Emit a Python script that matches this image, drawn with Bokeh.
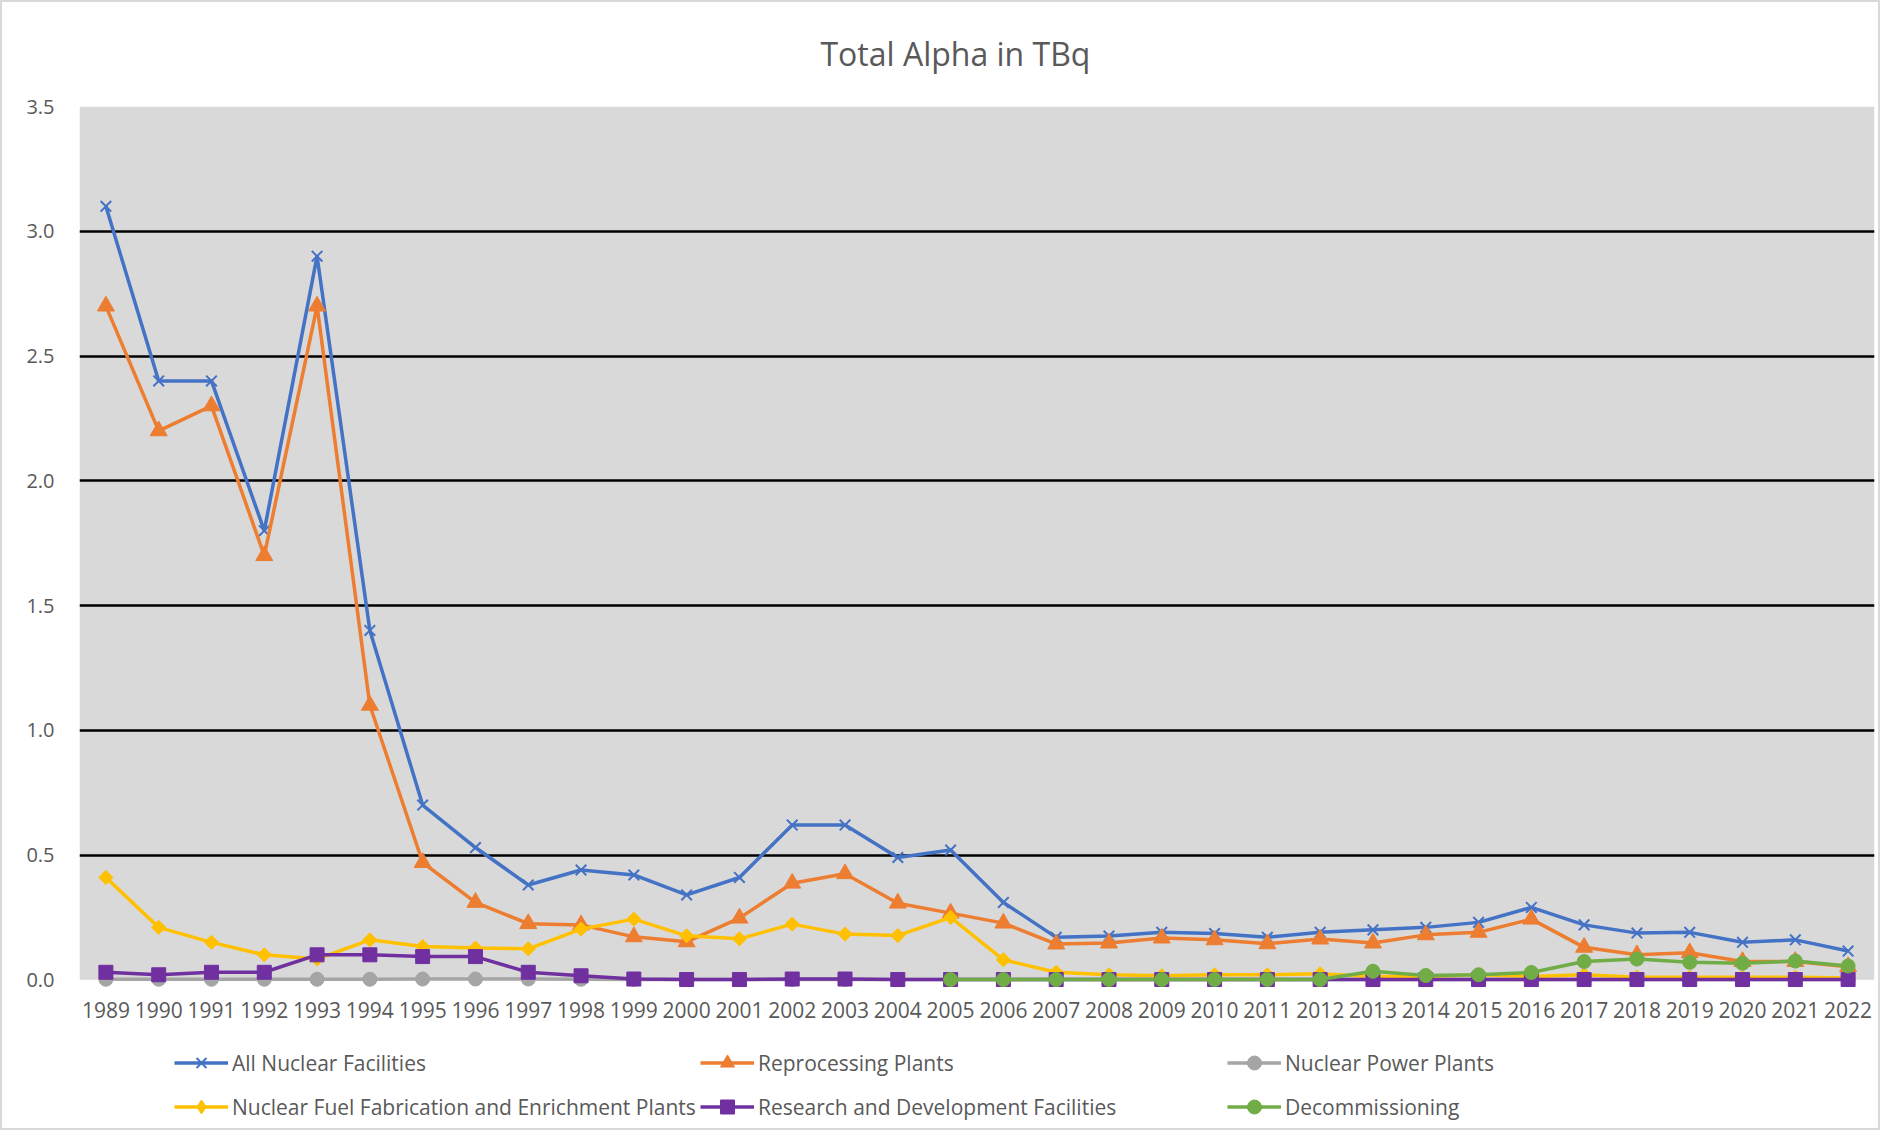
from bokeh.plotting import figure
from bokeh.layouts import column
from bokeh.models import (Range1d, FactorRange, FixedTicker, Legend, LegendItem,
                          PrintfTickFormatter, BoxAnnotation, Label)
from bokeh.embed import file_html
from bokeh.resources import INLINE

nan = float("nan")

years = ["1989", "1990", "1991", "1992", "1993", "1994", "1995", "1996", "1997", "1998",
         "1999", "2000", "2001", "2002", "2003", "2004", "2005", "2006", "2007", "2008",
         "2009", "2010", "2011", "2012", "2013", "2014", "2015", "2016", "2017", "2018",
         "2019", "2020", "2021", "2022"]

all_facilities = [3.1, 2.4, 2.4, 1.8, 2.9, 1.4, 0.70, 0.53, 0.38, 0.44,
                  0.42, 0.34, 0.41, 0.62, 0.62, 0.49, 0.52, 0.31, 0.17, 0.175,
                  0.19, 0.185, 0.17, 0.19, 0.20, 0.21, 0.23, 0.29, 0.22, 0.187,
                  0.19, 0.15, 0.16, 0.115]

reprocessing = [2.7, 2.2, 2.3, 1.7, 2.7, 1.1, 0.47, 0.31, 0.225, 0.22,
                0.172, 0.152, 0.247, 0.387, 0.425, 0.307, 0.267, 0.227, 0.143, 0.147,
                0.167, 0.16, 0.144, 0.163, 0.147, 0.18, 0.19, 0.243, 0.13, 0.1,
                0.108, 0.073, 0.073, 0.052]

power_plants = [0.002, 0.002, 0.002, 0.002, 0.002, 0.002, 0.003, 0.003, 0.003, 0.002,
                0.001, 0.001, 0.001, 0.001, 0.001, 0.001, 0.001, 0.001, 0.001, 0.001,
                0.001, 0.001, 0.001, 0.001, 0.001, 0.001, 0.001, 0.001, 0.001, 0.001,
                0.001, 0.001, 0.001, 0.001]

fuel_fabrication = [0.41, 0.21, 0.15, 0.10, 0.083, 0.16, 0.133, 0.127, 0.124, 0.203,
                    0.243, 0.176, 0.164, 0.223, 0.183, 0.177, 0.25, 0.08, 0.03, 0.02,
                    0.016, 0.02, 0.02, 0.024, 0.013, 0.013, 0.02, 0.013, 0.02, 0.01,
                    0.01, 0.01, 0.01, 0.007]

research_dev = [0.03, 0.02, 0.03, 0.03, 0.10, 0.10, 0.093, 0.093, 0.03, 0.016,
                0.003, 0.001, 0.001, 0.003, 0.003, 0.001, 0.001, 0.001, 0.001, 0.001,
                0.001, 0.001, 0.001, 0.001, 0.001, 0.001, 0.001, 0.001, 0.001, 0.001,
                0.001, 0.001, 0.001, 0.001]

decommissioning = [nan, nan, nan, nan, nan, nan, nan, nan, nan, nan,
                   nan, nan, nan, nan, nan, nan, 0.001, 0.001, 0.001, 0.001,
                   0.001, 0.001, 0.001, 0.001, 0.034, 0.017, 0.02, 0.029, 0.073, 0.083,
                   0.07, 0.066, 0.075, 0.055]

y_ticks = [0.0, 0.5, 1.0, 1.5, 2.0, 2.5, 3.0, 3.5]

# name, values, colour, chart marker, size, angle, legend marker
series = [
    ("All Nuclear Facilities", all_facilities, "#4472C4", "x", 15, 0.0, "x"),
    ("Reprocessing Plants", reprocessing, "#ED7D31", "triangle", 17, 0.0, "triangle"),
    ("Nuclear Power Plants", power_plants, "#A5A5A5", "circle", 14, 0.0, "circle"),
    ("Nuclear Fuel Fabrication and Enrichment Plants", fuel_fabrication, "#FFC000",
     "square", 10, 0.785398, "diamond"),
    ("Research and Development Facilities", research_dev, "#7030A0", "square", 14, 0.0, "square"),
    ("Decommissioning", decommissioning, "#70AD47", "circle", 14, 0.0, "circle"),
]

FONT = "Open Sans"
TEXT_COLOR = "#595959"
W = 1876


def bare(fig):
    fig.min_border_left = 0
    fig.min_border_right = 0
    fig.min_border_top = 0
    fig.min_border_bottom = 0
    fig.outline_line_color = None
    fig.background_fill_color = "white"
    fig.border_fill_color = "white"


# ---------------- title strip ----------------
t = figure(width=W, height=85, x_range=Range1d(0, 1), y_range=Range1d(0, 1),
           x_axis_type=None, y_axis_type=None, output_backend="svg",
           toolbar_location=None, tools="")
bare(t)
t.add_layout(Label(x=0.488, y=0.4, text="Total Alpha in TBq", text_align="center",
                   text_baseline="middle", text_font=FONT, text_font_size="32px",
                   text_color=TEXT_COLOR))

# ---------------- main chart ----------------
p = figure(width=W, height=949, x_range=FactorRange(*years),
           y_range=Range1d(-0.035, 3.5), output_backend="svg",
           toolbar_location=None, tools="")
p.min_border_left = 77
p.min_border_right = 4
p.min_border_top = 19
p.min_border_bottom = 48
p.background_fill_color = "white"
p.border_fill_color = "white"
p.outline_line_color = None

bg = BoxAnnotation(bottom=0, top=3.5, fill_color="#D9D9D9", fill_alpha=1.0,
                   line_color=None, level="image")
p.add_layout(bg)

p.xgrid.visible = False
p.ygrid.ticker = FixedTicker(ticks=y_ticks[1:])
p.ygrid.grid_line_color = "black"
p.ygrid.grid_line_width = 2.5

p.yaxis.ticker = FixedTicker(ticks=y_ticks)
p.yaxis.formatter = PrintfTickFormatter(format="%.1f")
for ax in (p.xaxis, p.yaxis):
    ax.axis_line_color = None
    ax.major_tick_line_color = None
    ax.minor_tick_line_color = None
    ax.major_label_text_font = FONT
    ax.major_label_text_color = TEXT_COLOR
p.yaxis.major_label_text_font_size = "20px"
p.xaxis.major_label_text_font_size = "21px"
p.yaxis.major_label_standoff = 19
p.xaxis.major_label_standoff = 7

# ---------------- legend strip ----------------
q = figure(width=W, height=92, x_range=p.x_range, y_range=Range1d(10, 11),
           x_axis_type=None, y_axis_type=None, output_backend="svg",
           toolbar_location=None, tools="")
bare(q)

items = {}
for name, vals, color, marker, size, angle, lmarker in series:
    p.line(x=years, y=vals, line_color=color, line_width=3.5)
    if marker == "x":
        p.scatter(x=years, y=vals, marker="x", size=size, line_color=color, line_width=2)
    else:
        p.scatter(x=years, y=vals, marker=marker, size=size, angle=angle,
                  fill_color=color, line_color=color, line_width=1)
    # out-of-view copies used only to draw the legend keys
    kl = q.line(x=years, y=vals, line_color=color, line_width=3.5)
    if lmarker == "x":
        ks = q.scatter(x=years, y=vals, marker="x", line_color=color, line_width=2)
    else:
        ks = q.scatter(x=years, y=vals, marker=lmarker, fill_color=color,
                       line_color=color, line_width=1)
    items[name] = LegendItem(label=name, renderers=[kl, ks])

columns = [
    ["All Nuclear Facilities", "Nuclear Fuel Fabrication and Enrichment Plants"],
    ["Reprocessing Plants", "Research and Development Facilities"],
    ["Nuclear Power Plants", "Decommissioning"],
]
for cx, names in zip([95, 621, 1148], columns):
    lg = Legend(items=[items[n] for n in names], location=(cx, 4),
                orientation="vertical", padding=0, margin=0, spacing=9,
                glyph_width=54, glyph_height=35, label_height=35, label_standoff=4,
                border_line_color=None, background_fill_alpha=0,
                label_text_font=FONT, label_text_font_size="21px",
                label_text_color=TEXT_COLOR)
    q.add_layout(lg)

layout = column(t, p, q, spacing=0)
layout.styles = {"border": "2px solid #D9D9D9"}

open("out.html", "w").write(file_html(layout, INLINE))
